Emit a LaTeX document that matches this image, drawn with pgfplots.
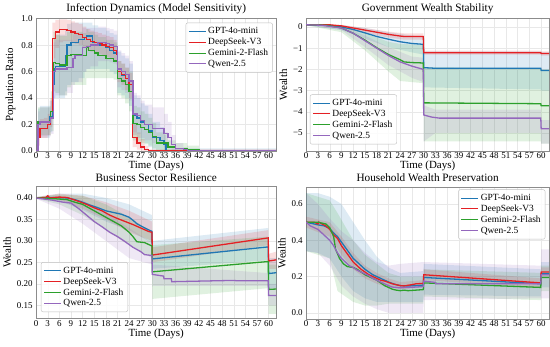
\documentclass[border=0pt]{standalone}
\usepackage{fontspec}
\setmainfont{Liberation Serif}
\usepackage{pgfplots}
\usepackage{pgfplotstable}
\pgfplotsset{compat=1.18}
\usepgfplotslibrary{fillbetween}
\definecolor{cB}{RGB}{31,119,180}
\definecolor{cR}{RGB}{228,32,36}
\definecolor{cG}{RGB}{44,160,44}
\definecolor{cP}{RGB}{148,103,189}

% ---------- Infection (x y lo hi) ----------
\pgfplotstableread{
x y lo hi
0 0.00 0.00 0.05
0.5 0.10 0.04 0.18
1 0.17 0.10 0.24
2 0.17 0.10 0.25
3 0.20 0.12 0.28
3.7 0.30 0.18 0.40
4.2 0.85 0.70 0.97
5 0.90 0.78 0.99
6 0.92 0.82 0.995
7 0.92 0.83 0.995
8 0.91 0.83 0.99
9 0.90 0.82 0.98
10 0.89 0.81 0.97
11 0.88 0.80 0.96
12 0.86 0.78 0.94
13 0.84 0.76 0.92
14 0.83 0.75 0.91
15 0.82 0.74 0.90
16 0.81 0.73 0.89
17 0.80 0.72 0.88
18 0.79 0.71 0.87
19 0.78 0.70 0.86
20 0.76 0.68 0.84
20.8 0.73 0.65 0.81
21 0.60 0.52 0.68
22 0.58 0.50 0.66
23 0.55 0.46 0.63
24 0.50 0.40 0.59
24.9 0.10 0.03 0.20
26 0.06 0.01 0.14
27 0.03 0.002 0.09
28 0.01 0.001 0.04
29 0.00 0.000 0.012
62 0.00 0.000 0.004
}\iR
\pgfplotstableread{
x y lo hi
0 0.00 0.00 0.08
0.5 0.20 0.10 0.32
1 0.22 0.10 0.34
3 0.22 0.10 0.34
3.5 0.26 0.14 0.38
4.2 0.50 0.35 0.70
4.6 0.62 0.40 0.85
5 0.64 0.40 0.88
7.5 0.72 0.45 0.92
8 0.80 0.50 0.96
9 0.82 0.52 0.97
11 0.84 0.55 0.97
12.5 0.86 0.60 0.97
13 0.87 0.62 0.97
14.5 0.82 0.62 0.95
16 0.80 0.62 0.93
18 0.78 0.62 0.91
19 0.76 0.60 0.89
20 0.74 0.58 0.88
21 0.60 0.44 0.75
22 0.57 0.42 0.72
23 0.55 0.40 0.70
24 0.50 0.34 0.66
25 0.27 0.12 0.42
26 0.25 0.10 0.40
27 0.22 0.08 0.36
28 0.20 0.06 0.34
29 0.15 0.03 0.28
30 0.10 0.01 0.22
32 0.08 0.002 0.18
33 0.05 0.001 0.12
33.5 0.00 0.000 0.02
62 0.00 0.000 0.004
}\iB
\pgfplotstableread{
x y lo hi
0 0.00 0.00 0.08
0.5 0.22 0.12 0.33
3.5 0.23 0.12 0.34
3.8 0.30 0.15 0.45
4.5 0.67 0.45 0.90
5 0.66 0.44 0.88
6 0.65 0.42 0.87
8 0.72 0.48 0.90
9 0.73 0.50 0.90
12 0.72 0.50 0.89
13 0.78 0.55 0.92
13.5 0.76 0.55 0.90
15 0.74 0.55 0.88
16 0.72 0.55 0.86
18 0.70 0.55 0.84
20 0.68 0.54 0.82
21 0.55 0.42 0.68
22 0.53 0.40 0.66
23 0.50 0.36 0.63
24 0.45 0.30 0.60
25 0.21 0.08 0.34
26 0.20 0.07 0.33
27 0.18 0.06 0.30
28 0.16 0.05 0.28
29 0.14 0.04 0.25
30 0.11 0.02 0.21
31 0.06 0.003 0.14
34 0.03 0.002 0.08
36 0.02 0.001 0.06
39 0.01 0.000 0.04
42 0.00 0.000 0.006
62 0.00 0.000 0.004
}\iG
\pgfplotstableread{
x y lo hi
0 0.00 0.00 0.08
0.5 0.20 0.10 0.30
1 0.22 0.11 0.33
3.5 0.22 0.11 0.33
3.8 0.25 0.13 0.38
4.5 0.60 0.40 0.82
5 0.62 0.42 0.84
8 0.63 0.44 0.84
9.5 0.70 0.50 0.88
10 0.72 0.52 0.89
12 0.78 0.60 0.93
13 0.79 0.62 0.93
14 0.80 0.64 0.93
16 0.82 0.68 0.94
18 0.81 0.68 0.93
19 0.80 0.67 0.92
20 0.79 0.66 0.91
21 0.62 0.48 0.76
22 0.60 0.46 0.74
23 0.58 0.44 0.72
24 0.53 0.38 0.68
25 0.28 0.14 0.44
26 0.27 0.13 0.42
27 0.23 0.10 0.38
28 0.20 0.08 0.35
30 0.17 0.06 0.33
33 0.13 0.03 0.28
34 0.10 0.02 0.22
35 0.05 0.003 0.12
36 0.02 0.002 0.06
38 0.01 0.001 0.03
39 0.00 0.000 0.008
62 0.00 0.000 0.004
}\iP

% ---------- Government ----------
\pgfplotstableread{
x y
0 0.10
6 0.10
9 0.05
12 -0.05
15 -0.15
18 -0.25
21 -0.35
24 -0.43
25 -0.45
29.9 -0.45
30 -1.22
59.9 -1.22
60 -1.25
62 -1.25
}\gR
\pgfplotstableread{
x lo hi
0 0.09 0.11
9 -0.05 0.10
15 -0.30 -0.05
21 -0.50 -0.22
25 -0.60 -0.30
29.9 -0.60 -0.30
30 -1.30 -1.12
59.9 -1.30 -1.12
60 -1.35 -1.15
62 -1.35 -1.15
}\gRb
\pgfplotstableread{
x y
0 0.10
6 0.08
9 0.00
12 -0.12
15 -0.28
18 -0.45
21 -0.58
24 -0.70
27 -0.78
29.9 -0.82
30 -1.92
33 -1.95
59.9 -1.95
60 -2.05
62 -2.05
}\gB
\pgfplotstableread{
x lo hi
0 0.08 0.12
9 -0.15 0.08
15 -0.55 -0.05
21 -0.95 -0.25
27 -1.20 -0.40
29.9 -1.30 -0.42
30 -2.85 -1.15
59.9 -2.95 -1.15
60 -3.00 -1.20
62 -3.00 -1.20
}\gBb
\pgfplotstableread{
x y
0 0.10
5 0.08
9 -0.05
12 -0.30
15 -0.62
18 -0.98
21 -1.30
24 -1.55
25 -1.65
27 -1.68
29.9 -1.70
30 -3.58
59.9 -3.62
60 -3.72
62 -3.72
}\gG
\pgfplotstableread{
x lo hi
0 0.08 0.12
9 -0.25 0.05
15 -1.10 -0.30
21 -2.10 -0.70
24 -2.55 -0.80
29.9 -2.65 -0.85
30 -5.40 -1.90
59.9 -5.40 -1.95
60 -5.50 -2.00
62 -5.50 -2.00
}\gGb
\pgfplotstableread{
x y
0 0.10
4 0.08
9 -0.05
12 -0.30
15 -0.65
18 -1.00
21 -1.35
24 -1.65
27 -1.85
29.9 -2.00
30 -4.15
32 -4.25
34 -4.30
59.9 -4.30
60 -4.80
62 -4.80
}\gP
\pgfplotstableread{
x lo hi
0 0.08 0.12
9 -0.15 0.02
15 -0.95 -0.40
21 -1.80 -0.95
27 -2.40 -1.40
29.9 -2.60 -1.45
30 -5.40 -3.70
33 -5.00 -3.90
59.9 -5.00 -3.90
60 -5.50 -4.40
62 -5.50 -4.40
}\gPb

% ---------- Business ----------
\pgfplotstableread{
x y
0 0.400
2.5 0.401
3 0.405
3.5 0.400
6 0.402
8 0.401
9 0.398
11 0.392
13 0.385
15 0.377
17 0.370
19 0.360
21 0.352
23 0.345
25 0.338
27 0.330
29 0.322
29.9 0.320
30 0.267
59.9 0.307
60 0.253
62 0.256
}\bR
\pgfplotstableread{
x lo hi
0 0.398 0.402
6 0.395 0.410
12 0.375 0.405
18 0.350 0.390
24 0.320 0.370
29.9 0.300 0.345
30 0.250 0.285
59.9 0.290 0.325
60 0.235 0.270
62 0.235 0.275
}\bRb
\pgfplotstableread{
x y
0 0.400
5 0.401
8 0.400
10 0.396
12 0.390
14 0.383
16 0.377
18 0.370
20 0.366
22 0.362
24 0.355
25 0.348
26 0.340
27 0.335
28.5 0.328
29.9 0.322
30 0.258
59.9 0.286
60 0.224
62 0.226
}\bB
\pgfplotstableread{
x lo hi
0 0.398 0.402
6 0.393 0.410
12 0.372 0.410
18 0.345 0.400
24 0.325 0.385
29.9 0.295 0.360
30 0.235 0.300
59.9 0.255 0.330
60 0.190 0.260
62 0.190 0.260
}\bBb
\pgfplotstableread{
x y
0 0.400
5 0.398
8 0.396
10 0.390
12 0.385
14 0.375
16 0.365
18 0.355
20 0.345
22 0.335
24 0.320
25 0.310
26 0.298
28 0.296
29.9 0.288
30 0.228
59.9 0.252
60 0.187
62 0.188
}\bG
\pgfplotstableread{
x lo hi
0 0.398 0.402
6 0.385 0.408
12 0.360 0.405
18 0.325 0.385
24 0.290 0.355
29.9 0.260 0.320
30 0.165 0.290
59.9 0.190 0.310
60 0.130 0.245
62 0.130 0.245
}\bGb
\pgfplotstableread{
x y
0 0.400
4 0.395
7 0.390
9 0.388
11 0.375
13 0.360
15 0.345
17 0.333
19 0.320
21 0.310
23 0.298
25 0.285
27 0.275
28 0.268
29.9 0.266
30 0.222
32.9 0.218
33 0.212
34.9 0.212
35 0.205
51 0.208
52 0.207
59.9 0.207
60 0.173
62 0.173
}\bP
\pgfplotstableread{
x lo hi
0 0.398 0.402
6 0.375 0.400
12 0.340 0.395
18 0.300 0.365
24 0.260 0.330
29.9 0.245 0.295
30 0.195 0.245
59.9 0.195 0.225
60 0.150 0.200
62 0.150 0.200
}\bPb

% ---------- Household ----------
\pgfplotstableread{
x y
0 0.50
2 0.50
3 0.49
3.2 0.50
4 0.49
5 0.48
6 0.46
7 0.43
8 0.41
9 0.37
10 0.34
11 0.31
12 0.28
13 0.26
14 0.24
15 0.225
16 0.21
17 0.20
18 0.19
19 0.18
20 0.175
21 0.168
22 0.16
23 0.155
24 0.15
25 0.148
26 0.152
27 0.155
28 0.16
29.9 0.162
30 0.21
59.9 0.165
60 0.225
62 0.225
}\hR
\pgfplotstableread{
x lo hi
0 0.47 0.53
6 0.42 0.50
9 0.32 0.42
12 0.24 0.33
15 0.19 0.26
18 0.16 0.22
21 0.14 0.19
24 0.13 0.17
29.9 0.14 0.18
30 0.18 0.24
59.9 0.14 0.19
60 0.20 0.25
62 0.20 0.25
}\hRb
\pgfplotstableread{
x y
0 0.50
2 0.49
3 0.485
4.5 0.48
6 0.465
7 0.44
8 0.42
9 0.39
10 0.36
11 0.33
12 0.30
13 0.28
14 0.26
15 0.24
16 0.225
17 0.21
18 0.20
19 0.19
20 0.18
21 0.17
22 0.162
23 0.155
24 0.15
26 0.148
28 0.15
29.9 0.152
30 0.195
59.9 0.16
60 0.215
62 0.215
}\hB
\pgfplotstableread{
x lo hi
0 0.34 0.66
3 0.33 0.66
6 0.30 0.64
9 0.20 0.60
12 0.12 0.50
15 0.08 0.40
18 0.06 0.31
21 0.06 0.25
24 0.06 0.22
29.9 0.06 0.23
30 0.10 0.27
59.9 0.09 0.24
60 0.14 0.28
62 0.14 0.28
}\hBb
\pgfplotstableread{
x y
0 0.50
3 0.50
4 0.495
5 0.49
6 0.47
7 0.42
7.5 0.35
8.5 0.30
9.5 0.27
10.5 0.255
12 0.25
13 0.24
14 0.225
15 0.21
16 0.20
17 0.19
18 0.18
19 0.165
20 0.15
21 0.14
22 0.13
23 0.125
24 0.122
25 0.125
26 0.122
28 0.125
29.9 0.128
30 0.165
59.9 0.14
60 0.195
62 0.195
}\hG
\pgfplotstableread{
x lo hi
0 0.34 0.66
6 0.30 0.62
8 0.12 0.55
12 0.06 0.40
15 0.04 0.32
18 0.04 0.27
21 0.05 0.22
24 0.05 0.20
29.9 0.05 0.20
30 0.09 0.24
59.9 0.07 0.22
60 0.12 0.26
62 0.12 0.26
}\hGb
\pgfplotstableread{
x y
0 0.50
1 0.48
2 0.47
3 0.46
4 0.44
5 0.42
6 0.40
7 0.37
8 0.33
9 0.30
10 0.28
11 0.26
12 0.25
13 0.235
14 0.225
15 0.215
16 0.205
17 0.19
18 0.18
19 0.17
20 0.16
21 0.15
22 0.142
24 0.138
26 0.14
28 0.142
29.9 0.145
30 0.175
32.9 0.168
33 0.16
59.9 0.16
60 0.21
62 0.21
}\hP
\pgfplotstableread{
x lo hi
0 0.34 0.66
3 0.33 0.60
6 0.26 0.52
9 0.15 0.45
12 0.09 0.40
15 0.05 0.33
18 0.02 0.28
21 0.00 0.26
24 0.00 0.27
29.9 0.00 0.28
30 0.07 0.28
59.9 0.08 0.26
60 0.08 0.35
62 0.08 0.35
}\hPb

% band macro: #1 table, #2 colour, #3 name, #4 extra plot options
\newcommand{\band}[4]{%
  \addplot[draw=none, forget plot, #4, name path=#3a] table[x=x,y=lo]{#1};
  \addplot[draw=none, forget plot, #4, name path=#3b] table[x=x,y=hi]{#1};
  \addplot[fill=#2, fill opacity=0.15, draw=none, forget plot] fill between[of=#3a and #3b];
}

\pgfplotsset{
  panel/.style={
    scale only axis, anchor=south west, height=133pt,
    xmin=0, xmax=62, xtick={0,3,...,60},
    grid=major, grid style={gray!18, line width=0.4pt},
    axis line style={black!45}, major tick length=0pt,
    tick label style={font=\fontsize{9}{10}\selectfont},
    xticklabel style={yshift=2pt},
    label style={font=\fontsize{11}{12}\selectfont},
    title style={font=\fontsize{11.3}{12}\selectfont, yshift=-4.5pt},
    xlabel={Time (Days)},
    xlabel style={yshift=4.5pt},
    ylabel style={yshift=-1pt},
    /pgf/number format/assume math mode=true,
    legend cell align=left,
    legend style={font=\fontsize{9.5}{10.5}\selectfont, draw=black!25, rounded corners=2pt,
      fill=white, fill opacity=0.85, text opacity=1, inner sep=2.5pt, row sep=-1pt},
    legend image code/.code={\draw[##1, line width=1pt] (0pt,0pt) -- (17pt,0pt);},
  },
  ln/.style={line width=1.3pt, mark=none},
}

\begin{document}
\begin{tikzpicture}
\path (0,0) rectangle (550pt,344pt);

% ---------------- Top left ----------------
\begin{axis}[panel, at={(33.5pt,196pt)}, width=241.5pt,
  title={Infection Dynamics (Model Sensitivity)}, ylabel={Population Ratio},
  ymin=0, ymax=1, ytick={0,0.2,0.4,0.6,0.8,1.0},
  yticklabel style={/pgf/number format/fixed, /pgf/number format/fixed zerofill, /pgf/number format/precision=1},
  legend style={at={(0.985,0.97)}, anchor=north east}]
\band{\iB}{cB}{ib}{const plot}
\band{\iR}{cR}{ir}{const plot}
\band{\iG}{cG}{ig}{const plot}
\band{\iP}{cP}{ip}{const plot}
\addplot[ln, cB, const plot] table[x=x,y=y]{\iB}; \addlegendentry{GPT-4o-mini}
\addplot[ln, cR, const plot] table[x=x,y=y]{\iR}; \addlegendentry{DeepSeek-V3}
\addplot[ln, cG, const plot] table[x=x,y=y]{\iG}; \addlegendentry{Gemini-2-Flash}
\addplot[ln, cP, const plot] table[x=x,y=y]{\iP}; \addlegendentry{Qwen-2.5}
\end{axis}

% ---------------- Top right ----------------
\begin{axis}[panel, at={(305pt,196pt)}, width=244pt,
  title={Government Wealth Stability}, ylabel={Wealth},
  ymin=-5.85, ymax=0.39, ytick={-5,-4,-3,-2,-1,0},
  yticklabels={−5,−4,−3,−2,−1,0},
  legend style={at={(0.015,0.05)}, anchor=south west}]
\band{\gBb}{cB}{gb}{}
\band{\gRb}{cR}{gr}{}
\band{\gGb}{cG}{gg}{}
\band{\gPb}{cP}{gp}{}
\addplot[ln, cB] table[x=x,y=y]{\gB}; \addlegendentry{GPT-4o-mini}
\addplot[ln, cR] table[x=x,y=y]{\gR}; \addlegendentry{DeepSeek-V3}
\addplot[ln, cG] table[x=x,y=y]{\gG}; \addlegendentry{Gemini-2-Flash}
\addplot[ln, cP] table[x=x,y=y]{\gP}; \addlegendentry{Qwen-2.5}
\end{axis}

% ---------------- Bottom left ----------------
\begin{axis}[panel, at={(33.5pt,27.5pt)}, width=241.5pt,
  title={Business Sector Resilience}, ylabel={Wealth},
  ymin=0.119, ymax=0.427, ytick={0.15,0.20,0.25,0.30,0.35,0.40},
  yticklabel style={/pgf/number format/fixed, /pgf/number format/fixed zerofill, /pgf/number format/precision=2},
  legend style={at={(0.02,0.05)}, anchor=south west}]
\band{\bBb}{cB}{bb}{}
\band{\bRb}{cR}{br}{}
\band{\bGb}{cG}{bg}{}
\band{\bPb}{cP}{bp}{}
\addplot[ln, cB] table[x=x,y=y]{\bB}; \addlegendentry{GPT-4o-mini}
\addplot[ln, cR] table[x=x,y=y]{\bR}; \addlegendentry{DeepSeek-V3}
\addplot[ln, cG] table[x=x,y=y]{\bG}; \addlegendentry{Gemini-2-Flash}
\addplot[ln, cP] table[x=x,y=y]{\bP}; \addlegendentry{Qwen-2.5}
\end{axis}

% ---------------- Bottom right ----------------
\begin{axis}[panel, at={(305pt,27pt)}, width=244pt,
  title={Household Wealth Preservation}, ylabel={Wealth},
  ymin=-0.035, ymax=0.695, ytick={0,0.2,0.4,0.6},
  yticklabel style={/pgf/number format/fixed, /pgf/number format/fixed zerofill, /pgf/number format/precision=1},
  legend style={at={(0.985,0.98)}, anchor=north east}]
\band{\hBb}{cB}{hb}{}
\band{\hRb}{cR}{hr}{}
\band{\hGb}{cG}{hg}{}
\band{\hPb}{cP}{hp}{}
\addplot[ln, cB] table[x=x,y=y]{\hB}; \addlegendentry{GPT-4o-mini}
\addplot[ln, cR] table[x=x,y=y]{\hR}; \addlegendentry{DeepSeek-V3}
\addplot[ln, cG] table[x=x,y=y]{\hG}; \addlegendentry{Gemini-2-Flash}
\addplot[ln, cP] table[x=x,y=y]{\hP}; \addlegendentry{Qwen-2.5}
\end{axis}
\end{tikzpicture}
\end{document}
